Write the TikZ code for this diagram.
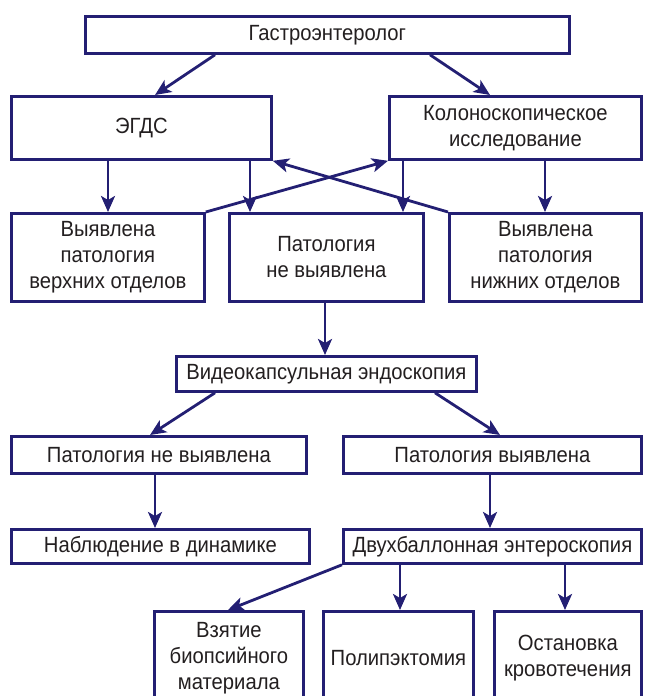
\documentclass[tikz,border=0pt]{standalone}
\usepackage{fontspec}
\setmainfont{Liberation Sans}[FakeStretch=0.92]
\usetikzlibrary{arrows.meta}
\definecolor{navy}{RGB}{35,31,115}
\definecolor{ink}{RGB}{35,31,32}
\begin{document}
\begin{tikzpicture}[x=1pt,y=-1pt,
  box/.style={draw=navy,line width=2.8pt,fill=white,anchor=north west,inner sep=0pt,
    text=ink,align=center,font=\fontsize{22}{26}\selectfont},
  arr/.style={draw=navy,line width=2.8pt,-{Stealth[length=16pt,width=14pt,inset=4pt]}}]
\useasboundingbox (0,0) rectangle (648,696);
\clip (0,0) rectangle (648,696);
% first level
\node[box,minimum width=484pt,minimum height=37pt] (gastro) at (84,15) {Гастроэнтеролог};
\node[box,minimum width=260pt,minimum height=63pt] (egds) at (10,95) {ЭГДС};
\node[box,minimum width=252pt,minimum height=63pt] (colono) at (388,95) {Колоноскопическое\\исследование};
% findings
\node[box,minimum width=193pt,minimum height=88pt] (upper) at (10,212) {Выявлена\\патология\\верхних отделов};
\node[box,minimum width=194pt,minimum height=88pt] (none) at (228,212) {Патология\\не выявлена};
\node[box,minimum width=192pt,minimum height=88pt] (lower) at (448,212) {Выявлена\\патология\\нижних отделов};
% capsule endoscopy branch
\node[box,minimum width=300pt,minimum height=35pt] (capsule) at (175,355) {Видеокапсульная эндоскопия};
\node[box,minimum width=295pt,minimum height=37pt] (negative) at (10,435) {Патология не выявлена};
\node[box,minimum width=298pt,minimum height=37pt] (positive) at (342,435) {Патология выявлена};
\node[box,minimum width=298pt,minimum height=34pt] (follow) at (10,528) {Наблюдение в динамике};
\node[box,minimum width=298pt,minimum height=34pt] (balloon) at (342,528) {Двухбаллонная энтероскопия};
% procedures
\node[box,minimum width=149pt,minimum height=94pt] (biopsy) at (153,610) {Взятие\\биопсийного\\материала};
\node[box,minimum width=150pt,minimum height=94pt] (polyp) at (322,610) {Полипэктомия};
\node[box,minimum width=147pt,minimum height=94pt] (bleed) at (493,610) {Остановка\\кровотечения};
% connectors
\draw[arr] (gastro.south -| 215,0) -- (egds.north -| 155,0);
\draw[arr] (gastro.south -| 430,0) -- (colono.north -| 490,0);
\draw[arr] (egds.south -| 108,0) -- (upper.north -| 108,0);
\draw[arr] (egds.south -| 250,0) -- (none.north -| 250,0);
\draw[arr] (colono.south -| 403,0) -- (none.north -| 403,0);
\draw[arr] (colono.south -| 545,0) -- (lower.north -| 545,0);
\draw[arr] (upper.north east) -- (colono.south west);
\draw[arr] (lower.north west) -- (egds.south east);
\draw[arr] (none.south -| 325,0) -- (capsule.north -| 325,0);
\draw[arr] (capsule.south -| 215,0) -- (negative.north -| 150,0);
\draw[arr] (capsule.south -| 435,0) -- (positive.north -| 500,0);
\draw[arr] (negative.south -| 155,0) -- (follow.north -| 155,0);
\draw[arr] (positive.south -| 490,0) -- (balloon.north -| 490,0);
\draw[arr] (balloon.south west) -- (biopsy.north -| 228,0);
\draw[arr] (balloon.south -| 400,0) -- (polyp.north -| 400,0);
\draw[arr] (balloon.south -| 565,0) -- (bleed.north -| 565,0);
\end{tikzpicture}
\end{document}
